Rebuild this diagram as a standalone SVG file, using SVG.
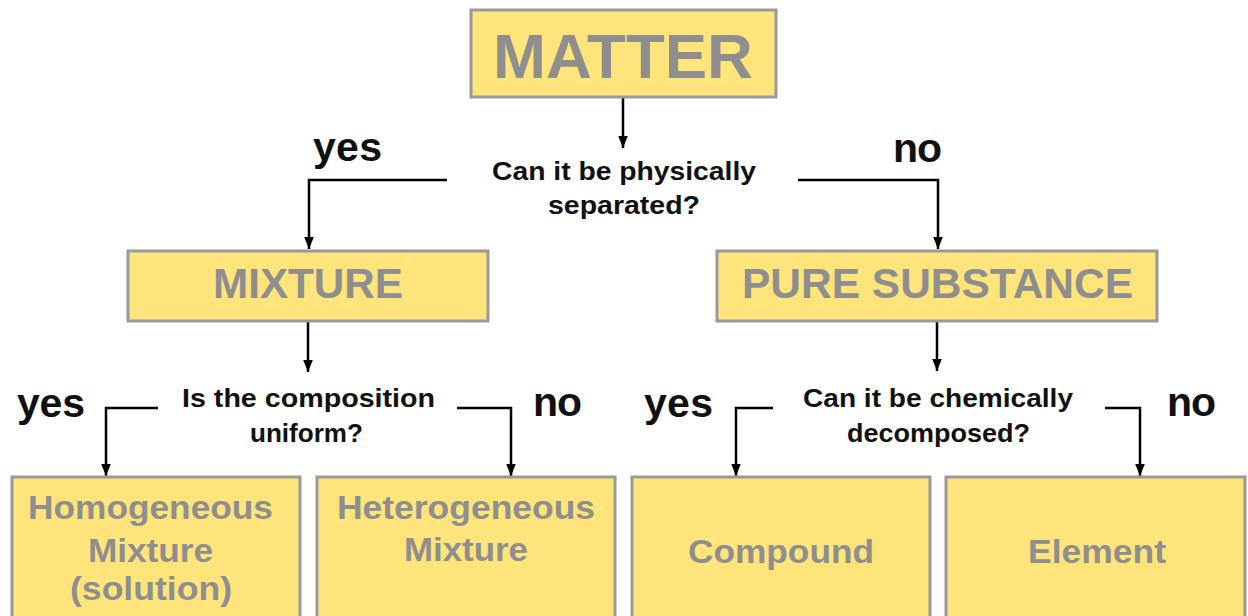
<svg xmlns="http://www.w3.org/2000/svg" width="1248" height="616" viewBox="0 0 1248 616">
<style>
.box{fill:#FFE37B;stroke:#999999;stroke-width:3}
.big{font-family:"Liberation Sans",Arial,sans-serif;font-weight:bold;fill:#8E8E8E;text-anchor:middle}
.q{font-family:"Liberation Sans",Arial,sans-serif;font-weight:bold;fill:#111111;font-size:26px;text-anchor:middle}
.yn{font-family:"Liberation Sans",Arial,sans-serif;font-weight:bold;fill:#111111;font-size:41px}
.conn{fill:none;stroke:#000000;stroke-width:2.5;marker-end:url(#arr)}
</style>
<defs>
<marker id="arr" markerUnits="userSpaceOnUse" markerWidth="12" markerHeight="12" refX="10" refY="5" orient="auto" viewBox="0 0 10 10">
<path d="M0,1 L10,5 L0,9 z" fill="#000000"/>
</marker>
</defs>
<rect width="1248" height="616" fill="#ffffff"/>
<g id="connectors">
<path class="conn" d="M623,97 L623,148"/>
<path class="conn" d="M447,180 L309,180 L309,249"/>
<path class="conn" d="M798,180 L938,180 L938,249"/>
<path class="conn" d="M308,321 L308,372"/>
<path class="conn" d="M158,408 L106,408 L106,476"/>
<path class="conn" d="M457,408 L511,408 L511,476"/>
<path class="conn" d="M937,321 L937,371"/>
<path class="conn" d="M773,408 L736,408 L736,476"/>
<path class="conn" d="M1105,408 L1140,408 L1140,476"/>
</g>
<g id="labels">
<text class="yn" x="313" y="161" textLength="69">yes</text>
<text class="yn" x="893" y="162" textLength="49">no</text>
<text class="yn" x="17" y="417" textLength="68">yes</text>
<text class="yn" x="533" y="416" textLength="49">no</text>
<text class="yn" x="644" y="417" textLength="69">yes</text>
<text class="yn" x="1167" y="416" textLength="49">no</text>
</g>
<g id="matter">
<rect class="box" x="471" y="10" width="305" height="87"/>
<text class="big" x="623" y="78" font-size="63" textLength="260" lengthAdjust="spacingAndGlyphs">MATTER</text>
</g>
<g id="q-physical">
<text class="q" x="624" y="180" textLength="264" lengthAdjust="spacingAndGlyphs">Can it be physically</text>
<text class="q" x="624" y="214" textLength="152" lengthAdjust="spacingAndGlyphs">separated?</text>
</g>
<g id="mixture">
<rect class="box" x="128" y="251" width="360" height="70"/>
<text class="big" x="308" y="298" font-size="42" textLength="190" lengthAdjust="spacingAndGlyphs">MIXTURE</text>
</g>
<g id="pure-substance">
<rect class="box" x="717" y="251" width="440" height="70"/>
<text class="big" x="937.5" y="298" font-size="42" textLength="391" lengthAdjust="spacingAndGlyphs">PURE SUBSTANCE</text>
</g>
<g id="q-uniform">
<text class="q" x="308.5" y="407" textLength="253" lengthAdjust="spacingAndGlyphs">Is the composition</text>
<text class="q" x="306.5" y="442" textLength="113" lengthAdjust="spacingAndGlyphs">uniform?</text>
</g>
<g id="q-chemical">
<text class="q" x="938" y="407" textLength="270" lengthAdjust="spacingAndGlyphs">Can it be chemically</text>
<text class="q" x="938.5" y="442" textLength="183" lengthAdjust="spacingAndGlyphs">decomposed?</text>
</g>
<g id="homogeneous">
<rect class="box" x="12" y="477" width="288" height="160"/>
<text class="big" x="150.5" y="519" font-size="33" textLength="245" lengthAdjust="spacingAndGlyphs">Homogeneous</text>
<text class="big" x="150.5" y="562" font-size="33" textLength="125" lengthAdjust="spacingAndGlyphs">Mixture</text>
<text class="big" x="151" y="600" font-size="33" textLength="162" lengthAdjust="spacingAndGlyphs">(solution)</text>
</g>
<g id="heterogeneous">
<rect class="box" x="317" y="477" width="298" height="160"/>
<text class="big" x="466" y="519" font-size="33" textLength="258" lengthAdjust="spacingAndGlyphs">Heterogeneous</text>
<text class="big" x="466" y="561" font-size="33" textLength="124" lengthAdjust="spacingAndGlyphs">Mixture</text>
</g>
<g id="compound">
<rect class="box" x="632" y="477" width="298" height="160"/>
<text class="big" x="781" y="563" font-size="33" textLength="186" lengthAdjust="spacingAndGlyphs">Compound</text>
</g>
<g id="element">
<rect class="box" x="946" y="477" width="299" height="160"/>
<text class="big" x="1097" y="563" font-size="33" textLength="138" lengthAdjust="spacingAndGlyphs">Element</text>
</g>
</svg>
